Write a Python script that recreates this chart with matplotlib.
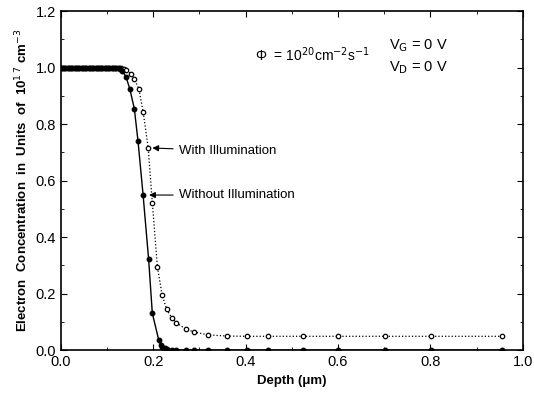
import matplotlib
matplotlib.use("Agg")
import matplotlib.pyplot as plt
from matplotlib.ticker import MultipleLocator

plt.rcParams['font.family'] = ['Liberation Sans', 'DejaVu Sans']

# flat part of both profiles (same depths)
flat_depth = [0.0, 0.005, 0.01, 0.015, 0.02, 0.025, 0.03, 0.035, 0.04, 0.045, 0.05,
              0.055, 0.06, 0.065, 0.07, 0.075, 0.08, 0.085, 0.09, 0.095, 0.10,
              0.105, 0.11, 0.115, 0.12, 0.125]
flat_conc = [1.0] * len(flat_depth)

# with illumination (open circles)
lit_depth = flat_depth + [0.13, 0.136, 0.142, 0.151, 0.159, 0.169, 0.178, 0.189, 0.198,
                          0.209, 0.219, 0.229, 0.24, 0.25, 0.27, 0.289, 0.319, 0.36,
                          0.402, 0.449, 0.524, 0.599, 0.701, 0.802, 0.954]
lit_conc = flat_conc + [0.997, 0.995, 0.991, 0.979, 0.960, 0.923, 0.844, 0.716, 0.521,
                        0.295, 0.196, 0.145, 0.114, 0.097, 0.075, 0.064, 0.054, 0.050,
                        0.049, 0.049, 0.049, 0.049, 0.049, 0.049, 0.049]

# without illumination (filled circles)
dark_depth = flat_depth + [0.129, 0.133, 0.141, 0.149, 0.159, 0.167, 0.178, 0.19, 0.198,
                           0.212, 0.216, 0.22, 0.225, 0.23, 0.24, 0.25, 0.27, 0.289,
                           0.319, 0.36, 0.402, 0.449, 0.524, 0.599, 0.701, 0.802, 0.954]
dark_conc = flat_conc + [0.995, 0.989, 0.967, 0.926, 0.855, 0.74, 0.549, 0.321, 0.130,
                         0.035, 0.02, 0.012, 0.008, 0.005, 0.002, 0.001, 0.0, 0.0,
                         0.0, 0.0, 0.0, 0.0, 0.0, 0.0, 0.0, 0.0, 0.0]

fig = plt.figure(figsize=(5.34, 3.97), dpi=100)
ax = fig.add_axes([0.114, 0.118, 0.865, 0.854])

ax.plot(lit_depth, lit_conc, color='black', linestyle=':', linewidth=0.9,
        marker='o', markersize=3.2, markerfacecolor='white', markeredgewidth=0.9)
ax.plot(dark_depth, dark_conc, color='black', linestyle='-', linewidth=1.0,
        marker='o', markersize=3.2, markerfacecolor='black')

ax.set_xlim(0, 1.0)
ax.set_ylim(0, 1.2)
ax.xaxis.set_major_locator(MultipleLocator(0.2))
ax.xaxis.set_minor_locator(MultipleLocator(0.1))
ax.yaxis.set_major_locator(MultipleLocator(0.2))
ax.yaxis.set_minor_locator(MultipleLocator(0.1))
ax.xaxis.set_major_formatter(plt.FormatStrFormatter('%.1f'))
ax.yaxis.set_major_formatter(plt.FormatStrFormatter('%.1f'))
ax.tick_params(which='both', direction='in', top=True, right=True, labelsize=10.5)
ax.tick_params(which='major', length=4)
ax.tick_params(which='minor', length=2)
for s in ax.spines.values():
    s.set_linewidth(1.2)

ax.set_xlabel('Depth (\u03bcm)', fontweight='bold', fontsize=9.5)
ax.set_ylabel('Electron  Concentration  in  Units  of  10$^{1\\,7}$ cm$^{-3}$',
              fontweight='bold', fontsize=9.5, labelpad=4)

ax.text(0.42, 1.025, '\u03a6  = 10$^{20}$cm$^{-2}$s$^{-1}$', fontsize=10)
ax.text(0.71, 1.065, 'V$_\\mathrm{G}$ = 0 V', fontsize=10.5)
ax.text(0.71, 0.988, 'V$_\\mathrm{D}$ = 0 V', fontsize=10.5)

arrow = dict(arrowstyle='-|>', color='black', lw=0.8, mutation_scale=9)
ax.annotate('With Illumination', xy=(0.192, 0.716), xytext=(0.255, 0.705),
            fontsize=9.5, va='center', arrowprops=arrow)
ax.annotate('Without Illumination', xy=(0.185, 0.549), xytext=(0.255, 0.549),
            fontsize=9.5, va='center', arrowprops=arrow)

fig.savefig('out.png', dpi=100)
